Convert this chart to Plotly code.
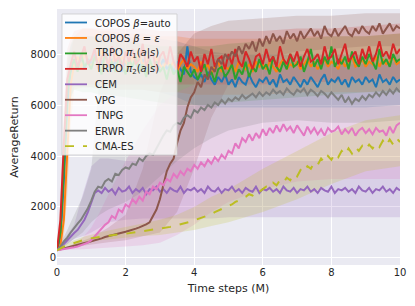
import plotly.graph_objects as go

# ---------------- data ----------------
X = [i / 10 for i in range(101)]  # time steps (M)

copos_auto = [300, 800, 3000, 6000, 7300, 7700, 7500, 7900, 7400, 7800,
              7600, 8000, 7500, 7700, 8200, 7400, 7800, 7600, 7900, 7300,
              7700, 7500, 7900, 7600, 7400, 7800, 7500, 7700, 7300, 7600,
              7500, 7800, 7400, 7600, 7300, 7700, 7400, 7200, 8300, 7300,
              7100, 7000, 7200, 6900, 7300, 7000, 6800, 7100, 6900, 7200,
              6800, 7000, 6700, 7100, 6900, 6800, 7200, 6900, 6700, 7000,
              6900, 7100, 6800, 7000, 6700, 7200, 6900, 7000, 6800, 7100,
              6900, 6700, 7000, 6800, 7100, 6900, 6700, 7000, 7200, 6800,
              7000, 6900, 7100, 6800, 7000, 6700, 7100, 6900, 7000, 6800,
              7100, 6900, 7000, 6700, 7200, 6900, 7000, 6800, 7100, 6900,
              7000]
copos_eps = [300, 500, 1500, 4000, 6800, 7600, 7900, 7400, 8100, 7700,
             7500, 7900, 7700, 8200, 7400, 7800, 7600, 8000, 7500, 7900,
             7700, 7400, 7900, 7600, 8100, 7500, 7800, 7600, 7400, 7900,
             7600, 7400, 7800, 7500, 7700, 7300, 7600, 7800, 7400, 7600,
             7500, 7300, 7700, 7400, 7600, 7200, 7500, 7700, 7300, 7500,
             7400, 7600, 7300, 7700, 7500, 7400, 7600, 7300, 7700, 7500,
             7600, 7400, 7700, 7500, 7300, 7600, 7800, 7400, 7600, 7500,
             7700, 7400, 7600, 7800, 7500, 7700, 7400, 7600, 7800, 7500,
             7700, 7600, 7400, 7800, 7500, 7700, 7900, 7500, 7600, 7800,
             7500, 7700, 7600, 7900, 7500, 7800, 7600, 7700, 7900, 7600,
             7700]
trpo_pi1 = [300, 1000, 3500, 6500, 7400, 7800, 7300, 8000, 7500, 7700,
            7400, 7900, 7600, 7200, 8100, 7500, 7700, 7300, 7900, 7600,
            7200, 7800, 7500, 7900, 7300, 7600, 7100, 7800, 7400, 7700,
            7300, 7500, 7000, 7600, 7200, 7400, 6900, 7500, 7300, 7100,
            7400, 7000, 7300, 7600, 7100, 7300, 6900, 7400, 7500, 7100,
            7300, 7600, 7000, 7400, 7200, 7700, 7100, 7500, 7300, 7800,
            7400, 7600, 7200, 7900, 7500, 7300, 7700, 7400, 8000, 7500,
            7600, 7900, 7300, 7700, 8200, 7500, 7800, 7400, 7900, 7600,
            8300, 7500, 7800, 7600, 7900, 7400, 8100, 7700, 7500, 7900,
            7600, 8000, 7700, 7400, 8200, 7600, 7800, 7500, 8000, 7700,
            7800]
trpo_pi2 = [300, 1500, 4500, 7000, 7600, 8100, 7500, 7900, 8300, 7600,
            7800, 8200, 7400, 7900, 8000, 7500, 8300, 7700, 7900, 7400,
            8100, 7700, 8200, 7600, 7800, 8400, 7500, 7900, 8000, 7300,
            7900, 8100, 7600, 8300, 7700, 7400, 8000, 7800, 7500, 8100,
            7700, 7900, 7300, 8000, 7600, 8200, 7500, 7800, 7900, 7400,
            8000, 7600, 8200, 7700, 7500, 8100, 7800, 7400, 7900, 8000,
            7600, 8200, 7700, 7900, 7500, 8300, 7800, 7600, 8000, 7700,
            8100, 7500, 7900, 8200, 7700, 7800, 8000, 7600, 8300, 7800,
            7900, 8200, 7600, 8000, 8400, 7700, 7900, 8100, 7600, 8200,
            7800, 8300, 7700, 8000, 8500, 7900, 8100, 7800, 8400, 8000,
            8200]
cem = [300, 450, 550, 700, 850, 980, 1100, 1300, 1500, 1800,
       2200, 2550, 2650, 2550, 2750, 2600, 2700, 2500, 2750, 2600,
       2650, 2800, 2550, 2700, 2600, 2750, 2500, 2700, 2650, 2800,
       2600, 2700, 2550, 2750, 2650, 2600, 2800, 2550, 2700, 2650,
       2750, 2600, 2700, 2550, 2800, 2650, 2600, 2750, 2550, 2700,
       2650, 2800, 2600, 2700, 2550, 2750, 2650, 2600, 2800, 2550,
       2700, 2650, 2750, 2600, 2700, 2550, 2800, 2650, 2600, 2750,
       2550, 2700, 2650, 2800, 2600, 2700, 2550, 2750, 2650, 2600,
       2800, 2550, 2700, 2650, 2750, 2600, 2700, 2550, 2800, 2650,
       2600, 2750, 2550, 2700, 2650, 2800, 2600, 2700, 2550, 2750,
       2650]
vpg = [300, 340, 380, 420, 460, 500, 530, 560, 590, 620,
       650, 690, 730, 770, 820, 850, 880, 910, 950, 1000,
       1030, 1070, 1100, 1150, 1200, 1250, 1320, 1400, 1650, 1900,
       2300, 2800, 3400, 3700, 3900, 4500, 5000, 5300, 5900, 6300,
       6500, 6900, 6700, 7200, 7000, 7500, 7300, 7800, 7600, 8000,
       7800, 8100, 7900, 8300, 8000, 8400, 8200, 8500, 8100, 8600,
       8300, 8700, 8400, 8800, 8500, 8700, 8400, 8900, 8600, 8800,
       8500, 8900, 8600, 8800, 9000, 8700, 8900, 8600, 9100, 8800,
       8700, 9000, 8700, 8900, 9100, 8800, 8700, 9000, 8800, 9100,
       8900, 8800, 9100, 8900, 9200, 8800, 9000, 9200, 8900, 9100,
       9000]
tnpg = [300, 320, 340, 370, 400, 420, 450, 500, 550, 600,
        700, 850, 1000, 1150, 1300, 1400, 1650, 1550, 1900, 1800,
        2100, 2000, 2300, 2150, 2400, 2250, 2600, 2500, 2800, 2700,
        2950, 2850, 3100, 3000, 3300, 3150, 3400, 3250, 3500, 3400,
        3650, 3500, 3750, 3600, 3850, 3700, 3950, 3800, 4050, 3900,
        4200, 4100, 4500, 4300, 4700, 4550, 4850, 4600, 4900, 4700,
        5050, 4800, 5100, 4900, 5200, 4950, 5250, 5000, 5150, 4900,
        5200, 5000, 4800, 5150, 4900, 5100, 4850, 5050, 4800, 5100,
        4950, 5000, 5150, 4850, 5050, 4900, 5100, 4800, 5000, 5100,
        4900, 5050, 4850, 5100, 4950, 5000, 4800, 5150, 4900, 5200,
        5300]
erwr = [300, 450, 650, 800, 1000, 1200, 1350, 1500, 1700, 1950,
        2250, 2600, 2800, 2750, 3000, 3100, 3000, 3300, 3250, 3450,
        3550, 3500, 3700, 3650, 3900, 3800, 4000, 4100, 4050, 4300,
        4600, 4800, 5000, 4950, 5200, 5300, 5250, 5500, 5600, 5500,
        5800, 5700, 5900, 5800, 6000, 5900, 6100, 6000, 6200, 6050,
        6250, 6150, 6300, 6200, 6400, 6250, 6350, 6450, 6300, 6500,
        6350, 6500, 6400, 6600, 6450, 6550, 6400, 6650, 6500, 6400,
        6600, 6500, 6650, 6400, 6600, 6500, 6350, 6550, 6450, 6300,
        6500, 6350, 6200, 6400, 6100, 6300, 6050, 6250, 6150, 6350,
        6200, 6400, 6300, 6500, 6350, 6550, 6400, 6600, 6450, 6650,
        6500]
cmaes = [300, 380, 450, 500, 550, 600, 640, 680, 720, 750,
         780, 800, 820, 840, 860, 880, 890, 910, 920, 940,
         950, 970, 990, 1000, 1020, 1050, 1060, 1080, 1100, 1120,
         1150, 1170, 1200, 1220, 1250, 1280, 1320, 1350, 1400, 1430,
         1480, 1520, 1580, 1620, 1680, 1720, 1800, 1850, 1920, 1980,
         2050, 2100, 2200, 2250, 2350, 2400, 2500, 2450, 2650, 2600,
         2700, 2800, 2750, 2950, 2850, 3050, 2950, 3150, 3050, 3300,
         3200, 3450, 3350, 3600, 3500, 3750, 3650, 3900, 3750, 4000,
         3850, 4100, 3950, 4200, 4050, 4300, 4100, 4350, 4200, 4400,
         4250, 4450, 4300, 4500, 4350, 4600, 4400, 4650, 4450, 4700,
         4550]

# spread (shaded band) edges on a coarser grid
BX = [0, 0.1, 0.2, 0.3, 0.4, 0.5, 0.75, 1, 1.25, 1.5, 2, 2.5, 3, 3.5, 4, 4.5, 5, 6, 7, 8, 9, 10]
copos_auto_lo = [300, 500, 1800, 4500, 6200, 6700, 6700, 6700, 6600, 6600, 6600, 6600, 6500, 6300, 6000, 5900, 5900, 5900, 5900, 5900, 5900, 6000]
copos_auto_hi = [300, 1200, 4500, 7500, 8300, 8600, 8700, 8700, 8700, 8700, 8700, 8600, 8600, 8500, 8300, 8100, 8000, 8000, 8000, 8000, 8000, 8000]
copos_eps_lo = [300, 350, 800, 2500, 5200, 6600, 6700, 6700, 6700, 6600, 6600, 6600, 6500, 6500, 6400, 6400, 6400, 6400, 6500, 6500, 6500, 6600]
copos_eps_hi = [300, 800, 2500, 5500, 8000, 8700, 9000, 9000, 8900, 8900, 8800, 8800, 8700, 8700, 8600, 8600, 8600, 8600, 8700, 8700, 8700, 8800]
trpo_pi1_lo = [300, 600, 2200, 5000, 6300, 6600, 6500, 6500, 6400, 6400, 6300, 6200, 6100, 6000, 6000, 6000, 6100, 6200, 6300, 6400, 6500, 6500]
trpo_pi1_hi = [300, 1500, 4800, 7800, 8400, 8700, 8700, 8700, 8600, 8500, 8500, 8400, 8300, 8300, 8300, 8300, 8400, 8500, 8600, 8700, 8700, 8800]
trpo_pi2_lo = [300, 900, 3200, 5800, 6600, 6800, 6800, 6800, 6800, 6800, 6800, 6800, 6800, 6800, 6800, 6800, 6800, 6800, 6900, 6900, 7000, 7000]
trpo_pi2_hi = [300, 2200, 5800, 8200, 8600, 8900, 9000, 9000, 9000, 9000, 9000, 9000, 8900, 8900, 8900, 8900, 8900, 8900, 9000, 9000, 9100, 9200]
cem_lo = [300, 400, 450, 550, 650, 750, 850, 1000, 1200, 1400, 1500, 1550, 1550, 1550, 1550, 1550, 1600, 1600, 1600, 1600, 1600, 1600]
cem_hi = [300, 500, 700, 900, 1100, 1300, 2500, 3600, 3900, 3900, 3800, 3800, 3800, 3800, 3800, 3800, 3800, 3800, 3800, 3800, 3800, 3800]
vpg_lo = [300, 320, 350, 380, 400, 430, 480, 520, 580, 620, 700, 850, 1000, 1800, 3500, 5500, 6800, 7800, 8100, 8200, 8300, 8300]
vpg_hi = [300, 360, 400, 450, 500, 550, 650, 800, 1000, 1200, 1700, 3500, 6500, 8000, 8800, 9100, 9300, 9400, 9500, 9500, 9600, 9600]
tnpg_lo = [300, 300, 300, 310, 320, 330, 340, 360, 380, 400, 450, 500, 600, 900, 1300, 1800, 2200, 2700, 3000, 3100, 3100, 3100]
tnpg_hi = [300, 340, 380, 430, 480, 550, 800, 1200, 1800, 2500, 3800, 5000, 6000, 6500, 6800, 7000, 7200, 7400, 7500, 7500, 7500, 7600]
erwr_lo = [300, 350, 450, 550, 650, 750, 1000, 1400, 1700, 1900, 2200, 2600, 3200, 3800, 4300, 4700, 5000, 5300, 5400, 5300, 5300, 5400]
erwr_hi = [300, 550, 850, 1100, 1400, 1700, 2400, 3500, 7200, 7600, 7800, 7900, 7900, 7900, 7900, 7800, 7800, 7700, 7700, 7600, 7600, 7700]
cmaes_lo = [300, 340, 400, 430, 470, 500, 580, 650, 700, 740, 800, 860, 900, 1000, 1100, 1250, 1400, 1800, 2300, 2900, 3400, 3600]
cmaes_hi = [300, 420, 500, 570, 630, 700, 820, 920, 1000, 1080, 1200, 1350, 1500, 1700, 2000, 2400, 2700, 3500, 4200, 4900, 5400, 5600]

names = ["COPOS <i>β</i>=auto", "COPOS <i>β</i> = <i>ε</i>",
         "TRPO <i>π</i><sub>1</sub>(<i>a</i>|<i>s</i>)", "TRPO <i>π</i><sub>2</sub>(<i>a</i>|<i>s</i>)",
         "CEM", "VPG", "TNPG", "ERWR", "CMA-ES"]
means = [copos_auto, copos_eps, trpo_pi1, trpo_pi2, cem, vpg, tnpg, erwr, cmaes]
lows = [copos_auto_lo, copos_eps_lo, trpo_pi1_lo, trpo_pi2_lo, cem_lo, vpg_lo, tnpg_lo, erwr_lo, cmaes_lo]
highs = [copos_auto_hi, copos_eps_hi, trpo_pi1_hi, trpo_pi2_hi, cem_hi, vpg_hi, tnpg_hi, erwr_hi, cmaes_hi]
colors = [(31, 119, 180), (255, 127, 14), (44, 160, 44), (214, 39, 40), (148, 103, 189),
          (140, 86, 75), (227, 119, 194), (127, 127, 127), (188, 189, 34)]
dashes = ["solid"] * 8 + ["dash"]

# ---------------- geometry (page has an 8px body margin) ----------------
W, H = 407, 298
ML, MR, MT, MB = 49, 15, 1, 41
PW, PH = W - ML - MR, H - MT - MB


def fx(px):  # page pixel -> paper x
    return (px - 8 - ML) / PW


def fy(py):  # page pixel -> paper y
    return (H - MB - (py - 8)) / PH


fig = go.Figure()
for lo, hi, c in zip(lows, highs, colors):
    fig.add_trace(go.Scatter(
        x=BX + BX[::-1], y=hi + lo[::-1], fill="toself", mode="lines",
        line=dict(width=0), fillcolor="rgba(%d,%d,%d,0.2)" % c,
        hoverinfo="skip", showlegend=False))
for name, m, c, d in zip(names, means, colors, dashes):
    fig.add_trace(go.Scatter(
        x=X, y=m, mode="lines", name=name, showlegend=False,
        line=dict(color="rgb(%d,%d,%d)" % c, width=2, dash=d)))

# ---------------- legend (drawn as layout shapes + annotations) ----------------
shapes = [dict(type="rect", xref="paper", yref="paper",
               x0=fx(62), x1=fx(177), y0=fy(155), y1=fy(14),
               fillcolor="rgba(255,255,255,0.8)", line=dict(color="rgba(204,204,204,0.8)", width=1),
               layer="above")]
annotations = []
for k, (name, c, d) in enumerate(zip(names, colors, dashes)):
    yc = 22.5 + 15.45 * k
    shapes.append(dict(type="line", xref="paper", yref="paper",
                       x0=fx(65), x1=fx(87), y0=fy(yc), y1=fy(yc),
                       line=dict(color="rgb(%d,%d,%d)" % c, width=1.8, dash=d), layer="above"))
    annotations.append(dict(xref="paper", yref="paper", x=fx(93), y=fy(yc + 0.5),
                            xanchor="left", yanchor="middle", showarrow=False, text=name,
                            font=dict(size=10, family="DejaVu Sans", color="#262626")))

fig.update_layout(
    width=W, height=H,
    margin=dict(l=ML, r=MR, t=MT, b=MB),
    paper_bgcolor="white", plot_bgcolor="#EAEAF2",
    font=dict(family="DejaVu Sans", size=10, color="#262626"),
    showlegend=False,
    shapes=shapes, annotations=annotations,
    xaxis=dict(range=[0, 10], tickvals=[0, 2, 4, 6, 8, 10], showgrid=True, gridcolor="white",
               gridwidth=1, zeroline=False, showline=False, ticks="", automargin=False,
               title=dict(text="Time steps (M)", font=dict(size=11), standoff=7),
               tickfont=dict(size=10)),
    yaxis=dict(range=[-275, 9765], tickvals=[0, 2000, 4000, 6000, 8000], showgrid=True,
               gridcolor="white", gridwidth=1, zeroline=False, showline=False, ticks="",
               automargin=False,
               title=dict(text="AverageReturn", font=dict(size=11), standoff=9),
               tickfont=dict(size=10)),
)
fig.write_html("out.html")
